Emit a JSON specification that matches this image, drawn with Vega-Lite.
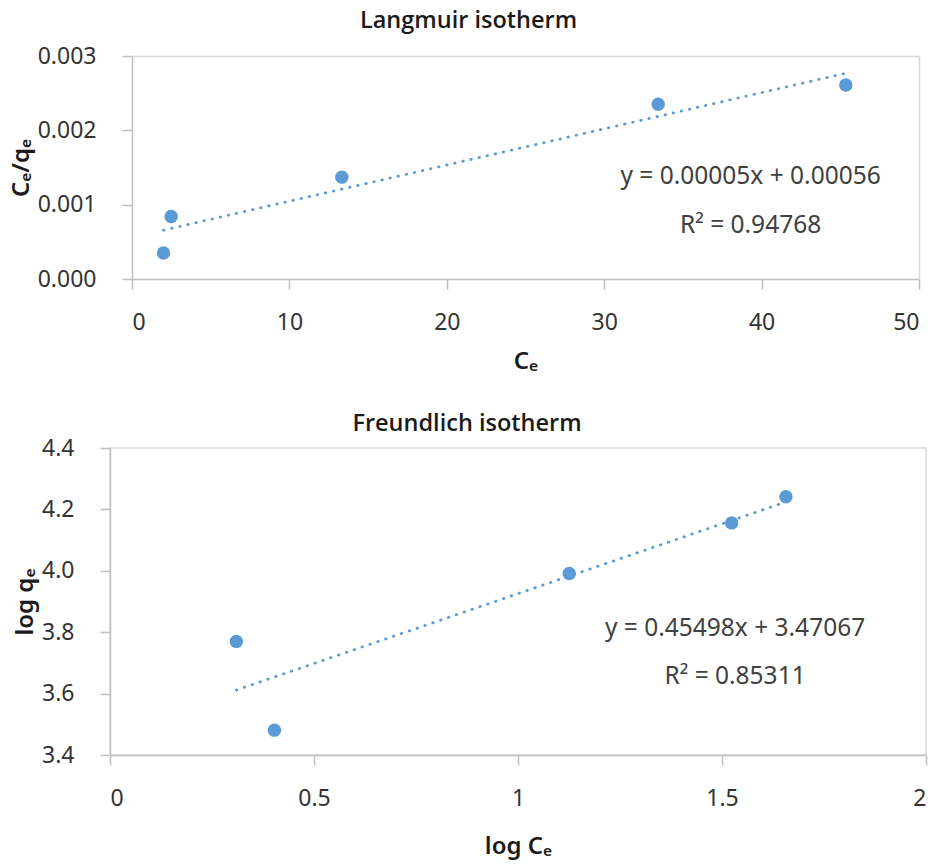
{
  "$schema": "https://vega.github.io/schema/vega-lite/v6.json",
  "background": "white",
  "padding": {"left": 9, "top": 8, "right": 5, "bottom": 5},
  "datasets": {
    "lang_pts": [
      {"x": 2.0, "y": 0.00035},
      {"x": 2.49, "y": 0.00084},
      {"x": 13.33, "y": 0.00137},
      {"x": 33.43, "y": 0.00235},
      {"x": 45.35, "y": 0.00261}
    ],
    "lang_trend": [
      {"x": 2.0, "y": 0.000657},
      {"x": 45.35, "y": 0.002768}
    ],
    "lang_text": [
      {"x": 39.3, "y": 0.00137, "label": "y = 0.00005x + 0.00056"},
      {"x": 39.3, "y": 0.000712, "label": "R² = 0.94768"}
    ],
    "fr_pts": [
      {"x": 0.3097, "y": 3.770},
      {"x": 0.403, "y": 3.481},
      {"x": 1.1256, "y": 3.991},
      {"x": 1.5236, "y": 4.156},
      {"x": 1.6567, "y": 4.241}
    ],
    "fr_trend": [
      {"x": 0.3097, "y": 3.6116},
      {"x": 1.6567, "y": 4.2244}
    ],
    "fr_text": [
      {"x": 1.532, "y": 3.810, "label": "y = 0.45498x + 3.47067"},
      {"x": 1.532, "y": 3.654, "label": "R² = 0.85311"}
    ]
  },
  "vconcat": [
    {
      "width": 809,
      "height": 223,
      "view": {"stroke": null},
      "title": {"text": "Langmuir isotherm", "offset": 13, "dx": -46},
      "resolve": {"axis": {"x": "independent", "y": "independent"}},
      "layer": [
        {
          "data": {"name": "lang_trend"},
          "mark": {"type": "line", "color": "#5b9bd5", "strokeWidth": 2.8, "strokeDash": [0.5, 7.8], "strokeCap": "round"},
          "encoding": {
            "x": {"field": "x", "type": "quantitative", "scale": {"domain": [0, 50], "rangeMin": 22},
                  "axis": {"orient": "bottom", "title": "Cₑ", "values": [0, 10, 20, 30, 40, 50], "titlePadding": 15}},
            "y": {"field": "y", "type": "quantitative", "scale": {"domain": [0, 0.003]},
                  "axis": {"orient": "left", "offset": -22, "title": "Cₑ/qₑ", "values": [0, 0.001, 0.002, 0.003], "format": ".3f"}}
          }
        },
        {
          "data": {"name": "lang_pts"},
          "mark": {"type": "circle", "color": "#5b9bd5", "size": 180, "opacity": 1},
          "encoding": {
            "x": {"field": "x", "type": "quantitative",
                  "axis": {"orient": "top", "labels": false, "ticks": false, "title": null, "domainColor": "#d9d9d9", "values": [0]}},
            "y": {"field": "y", "type": "quantitative",
                  "axis": {"orient": "right", "labels": false, "ticks": false, "title": null, "domainColor": "#d9d9d9", "values": [0]}}
          }
        },
        {
          "data": {"name": "lang_text"},
          "mark": {"type": "text", "fontSize": 24.5, "color": "#404040", "align": "center", "baseline": "middle"},
          "encoding": {
            "x": {"field": "x", "type": "quantitative", "axis": null},
            "y": {"field": "y", "type": "quantitative", "axis": null},
            "text": {"field": "label"}
          }
        }
      ]
    },
    {
      "width": 816,
      "height": 307,
      "title": {"text": "Freundlich isotherm", "offset": 2, "dx": -51},
      "layer": [
        {
          "data": {"name": "fr_trend"},
          "mark": {"type": "line", "color": "#5b9bd5", "strokeWidth": 2.8, "strokeDash": [0.5, 7.8], "strokeCap": "round"},
          "encoding": {
            "x": {"field": "x", "type": "quantitative", "scale": {"domain": [0, 2]},
                  "axis": {"title": "log Cₑ", "values": [0, 0.5, 1, 1.5, 2], "format": "~g", "titlePadding": 24}},
            "y": {"field": "y", "type": "quantitative", "scale": {"domain": [3.4, 4.4], "zero": false},
                  "axis": {"title": "log qₑ", "values": [3.4, 3.6, 3.8, 4.0, 4.2, 4.4], "format": ".1f"}}
          }
        },
        {
          "data": {"name": "fr_pts"},
          "mark": {"type": "circle", "color": "#5b9bd5", "size": 180, "opacity": 1},
          "encoding": {
            "x": {"field": "x", "type": "quantitative"},
            "y": {"field": "y", "type": "quantitative"}
          }
        },
        {
          "data": {"name": "fr_text"},
          "mark": {"type": "text", "fontSize": 24.5, "color": "#404040", "align": "center", "baseline": "middle"},
          "encoding": {
            "x": {"field": "x", "type": "quantitative"},
            "y": {"field": "y", "type": "quantitative"},
            "text": {"field": "label"}
          }
        }
      ]
    }
  ],
  "spacing": 37,
  "config": {
    "font": "Noto Sans",
    "view": {"stroke": "#d9d9d9", "strokeWidth": 1.5},
    "axis": {
      "grid": false,
      "domainColor": "#bfbfbf",
      "domainWidth": 1.5,
      "tickColor": "#bfbfbf",
      "tickWidth": 1.5,
      "tickSize": 10,
      "labelFontSize": 23,
      "labelColor": "#333333",
      "labelFont": "Noto Sans",
      "titleFont": "Noto Sans",
      "titleFontSize": 24,
      "titleFontWeight": 600,
      "titleColor": "#1a1a1a"
    },
    "axisX": {"labelPadding": 22},
    "axisY": {"labelPadding": 26, "titlePadding": 4},
    "title": {"fontSize": 23.5, "fontWeight": 600, "color": "#1a1a1a", "anchor": "middle", "frame": "group", "font": "Open Sans"}
  }
}
